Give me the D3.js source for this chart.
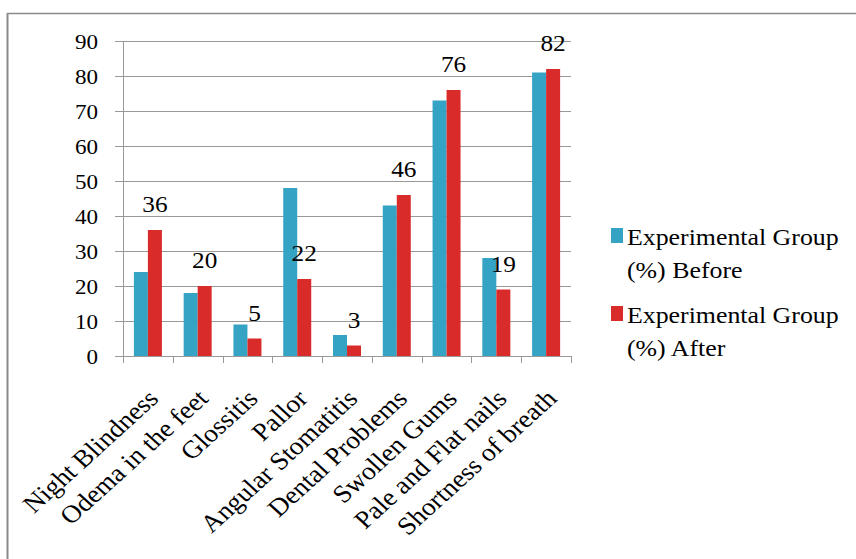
<!DOCTYPE html>
<html>
<head>
<meta charset="utf-8">
<script src="https://cdn.jsdelivr.net/npm/d3@7"></script>
<style>
  html, body { margin: 0; padding: 0; background: #fff; }
  svg { display: block; }
</style>
</head>
<body>
<svg id="chart" width="856" height="559"></svg>
<script>
const categories = ["Night Blindness", "Odema in the feet", "Glossitis", "Pallor", "Angular Stomatitis", "Dental Problems", "Swollen Gums", "Pale and Flat nails", "Shortness of breath"];
const seriesNames = ["Experimental Group (%) Before", "Experimental Group (%) After"];
const legendLines = [["Experimental Group", "(%) Before"], ["Experimental Group", "(%) After"]];
const before = [24, 18, 9, 48, 6, 43, 73, 28, 81];
const after = [36, 20, 5, 22, 3, 46, 76, 19, 82];
const yTicks = [0, 10, 20, 30, 40, 50, 60, 70, 80, 90];
const colors = ["#35A3C3", "#D92C2A"];

const FONT = "Liberation Serif";
const svg = d3.select("#chart");
const SX = 1.1; // horizontal stretch of text as in the reference

const x0 = d3.scaleBand().domain(categories).range([123, 571]).padding(0);
const bw = x0.bandwidth();
const barW = 14;
const x1 = d3.scaleBand().domain(seriesNames).range([0, bw])
  .paddingInner(0).paddingOuter((bw / barW - 2) / 2);
const y = d3.scaleLinear().domain([0, 90]).range([356, 41]);
const rows = categories.map((c, i) => ({ c, vals: [before[i], after[i]] }));

function label(sel, fs) {
  return sel.attr("font-family", FONT).style("font-family", FONT)
    .attr("font-size", fs).attr("fill", "#000");
}

// y tick labels
label(svg.append("g").selectAll("text").data(yTicks).join("text"), 21)
  .attr("transform", d => `translate(98,${y(d) + 7.5}) scale(${SX},1)`)
  .attr("text-anchor", "end")
  .text(d => d);

// data labels (After series)
label(svg.append("g").selectAll("text").data(rows).join("text"), 23)
  .attr("transform", d => `translate(${x0(d.c) + x1(seriesNames[1]) + x1.bandwidth() / 2},${y(d.vals[1]) - 18}) scale(${SX},1)`)
  .attr("text-anchor", "middle")
  .text(d => d.vals[1]);

// category labels
label(svg.append("g").selectAll("text").data(categories).join("text"), 25)
  .attr("transform", d => `translate(${x0(d) + bw / 2 + 12},${y(0) + 44}) scale(${SX},1) rotate(-45)`)
  .attr("text-anchor", "end")
  .text(d => d);

// legend
const leg = svg.append("g");
const legY = [228, 306];
legendLines.forEach((lines, i) => {
  leg.append("rect").attr("x", 611).attr("y", legY[i]).attr("width", 12).attr("height", 15)
    .attr("fill", colors[i]);
  lines.forEach((t, j) => {
    label(leg.append("text"), 23.5)
      .attr("transform", `translate(627,${legY[i] + 17 + j * 33}) scale(${SX},1)`)
      .text(t);
  });
});

// frame
svg.append("line").attr("x1", 7.5).attr("x2", 856).attr("y1", 13.5).attr("y2", 13.5)
  .attr("stroke", "#8a8a8a").attr("stroke-width", 1.5);
svg.append("line").attr("x1", 7.5).attr("x2", 7.5).attr("y1", 13).attr("y2", 559)
  .attr("stroke", "#8a8a8a").attr("stroke-width", 2);

// gridlines
svg.append("g").selectAll("line").data(yTicks).join("line")
  .attr("x1", 115).attr("x2", 571)
  .attr("y1", d => Math.round(y(d)) + 0.5).attr("y2", d => Math.round(y(d)) + 0.5)
  .attr("stroke", "#999").attr("stroke-width", 1);

// y axis line
svg.append("line").attr("x1", 123.5).attr("x2", 123.5).attr("y1", y(90)).attr("y2", y(0))
  .attr("stroke", "#999");

// bottom ticks at band boundaries
const bounds = categories.map(c => x0(c)).concat([x0.range()[1]]);
svg.append("g").selectAll("line").data(bounds).join("line")
  .attr("x1", d => Math.round(d) + 0.5).attr("x2", d => Math.round(d) + 0.5)
  .attr("y1", y(0)).attr("y2", y(0) + 7)
  .attr("stroke", "#999");

// bars
const groups = svg.append("g").selectAll("g").data(rows).join("g")
  .attr("transform", d => `translate(${x0(d.c)},0)`);
groups.selectAll("rect").data(d => d.vals.map((v, k) => ({ k, v }))).join("rect")
  .attr("x", d => x1(seriesNames[d.k]))
  .attr("width", x1.bandwidth())
  .attr("y", d => y(d.v))
  .attr("height", d => y(0) - y(d.v))
  .attr("fill", d => colors[d.k]);

// keep labels above bars
svg.selectAll("g").filter(function () { return this.querySelector("text"); }).raise();
</script>
</body>
</html>
